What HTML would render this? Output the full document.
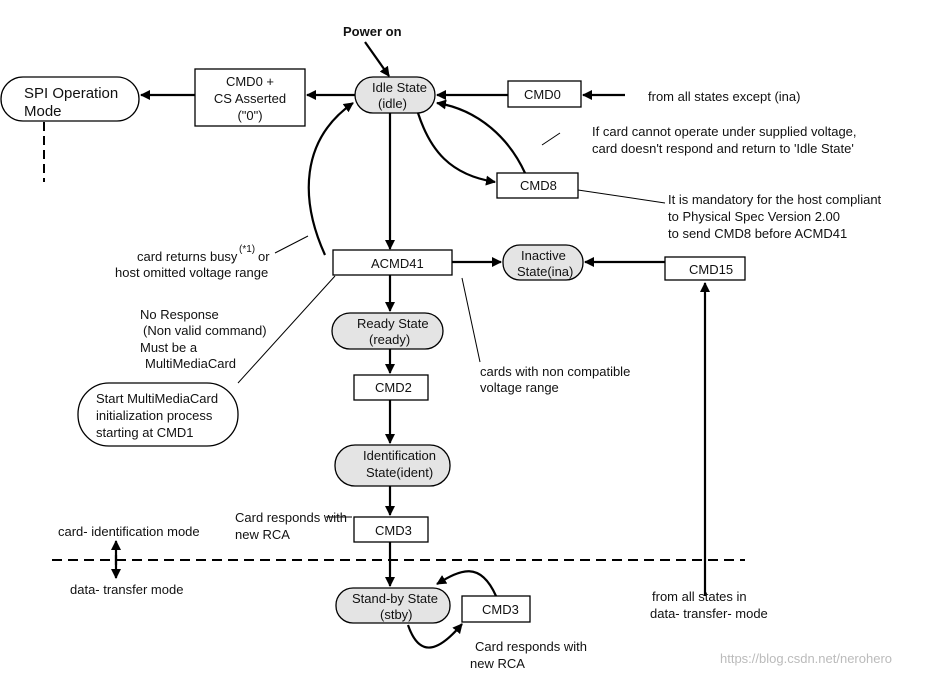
<!DOCTYPE html>
<html><head><meta charset="utf-8"><style>
html,body{margin:0;padding:0;background:#fff;}
svg{display:block;font-family:"Liberation Sans",Arial,sans-serif;font-size:13px;fill:#111;}
</style></head><body>
<svg width="936" height="677" viewBox="0 0 936 677" xmlns="http://www.w3.org/2000/svg">
<defs>
<marker id="a" markerWidth="10" markerHeight="10" refX="9" refY="5" orient="auto" markerUnits="userSpaceOnUse">
<path d="M0,0 L10,5 L0,10 Z" fill="#000"/></marker>
</defs>
<g stroke="#000" stroke-width="1.3" fill="#fff">
<!-- pills -->
<rect x="1" y="77" width="138" height="44" rx="22" />
<rect x="355" y="77" width="80" height="36" rx="18" fill="#e4e4e4"/>
<rect x="503" y="245" width="80" height="35" rx="17" fill="#e4e4e4"/>
<rect x="332" y="313" width="111" height="36" rx="18" fill="#e4e4e4"/>
<rect x="78" y="383" width="160" height="63" rx="31" />
<rect x="335" y="445" width="115" height="41" rx="20" fill="#e4e4e4"/>
<rect x="336" y="588" width="114" height="35" rx="17" fill="#e4e4e4"/>
<!-- boxes -->
<rect x="195" y="69" width="110" height="57"/>
<rect x="508" y="81" width="73" height="26"/>
<rect x="497" y="173" width="81" height="25"/>
<rect x="333" y="250" width="119" height="25"/>
<rect x="665" y="257" width="80" height="23"/>
<rect x="354" y="375" width="74" height="25"/>
<rect x="354" y="517" width="74" height="25"/>
<rect x="462" y="596" width="68" height="26"/>
</g>
<g stroke="#000" stroke-width="2.2" fill="none" marker-end="url(#a)">
<line x1="365" y1="42" x2="389" y2="76"/>
<line x1="355" y1="95" x2="307" y2="95"/>
<line x1="195" y1="95" x2="141" y2="95"/>
<line x1="625" y1="95" x2="583" y2="95"/>
<line x1="508" y1="95" x2="437" y2="95"/>
<path d="M418,113 C430,150 450,175 495,182"/>
<path d="M525,173 C510,140 480,110 437,103"/>
<line x1="390" y1="113" x2="390" y2="249"/>
<path d="M325,255 C300,200 300,140 353,103"/>
<line x1="452" y1="262" x2="501" y2="262"/>
<line x1="665" y1="262" x2="585" y2="262"/>
<line x1="705" y1="596" x2="705" y2="283"/>
<line x1="390" y1="275" x2="390" y2="311"/>
<line x1="390" y1="349" x2="390" y2="373"/>
<line x1="390" y1="400" x2="390" y2="443"/>
<line x1="390" y1="486" x2="390" y2="515"/>
<line x1="390" y1="542" x2="390" y2="586"/>
<path d="M496,596 C480,560 460,570 437,584"/>
<path d="M408,625 C420,660 440,650 462,624"/>
<line x1="116" y1="555" x2="116" y2="578"/>
<line x1="116" y1="565" x2="116" y2="541"/>
</g>
<g stroke="#000" stroke-width="1" fill="none">
<line x1="542" y1="145" x2="560" y2="133"/>
<line x1="578" y1="190" x2="665" y2="203"/>
<line x1="275" y1="253" x2="308" y2="236"/>
<line x1="462" y1="278" x2="480" y2="362"/>
<line x1="335" y1="276" x2="238" y2="383"/>
<line x1="326" y1="517" x2="352" y2="517"/>
</g>
<line x1="44" y1="122" x2="44" y2="182" stroke="#000" stroke-width="2" stroke-dasharray="9,5"/>
<line x1="52" y1="560" x2="745" y2="560" stroke="#000" stroke-width="2" stroke-dasharray="10,6"/>
<text x="343" y="36" font-weight="bold">Power on</text>
<text x="24" y="98" font-size="15">SPI Operation</text>
<text x="24" y="116" font-size="15">Mode</text>
<text x="250" y="86" text-anchor="middle">CMD0 +</text>
<text x="250" y="103" text-anchor="middle">CS Asserted</text>
<text x="250" y="120" text-anchor="middle">("0")</text>
<text x="372" y="92">Idle State</text>
<text x="378" y="108">(idle)</text>
<text x="524" y="99">CMD0</text>
<text x="648" y="101">from all states except (ina)</text>
<text x="592" y="136">If card cannot operate under supplied voltage,</text>
<text x="592" y="153">card doesn't respond and return to 'Idle State'</text>
<text x="520" y="190">CMD8</text>
<text x="668" y="204">It is mandatory for the host compliant</text>
<text x="668" y="221">to Physical Spec Version 2.00</text>
<text x="668" y="238">to send CMD8 before ACMD41</text>
<text x="137" y="261">card returns busy</text>
<text x="239" y="252" font-size="10">(*1)</text>
<text x="258" y="261">or</text>
<text x="115" y="277">host omitted voltage range</text>
<text x="371" y="268">ACMD41</text>
<text x="521" y="260">Inactive</text>
<text x="517" y="276">State(ina)</text>
<text x="689" y="274">CMD15</text>
<text x="140" y="319">No Response</text>
<text x="143" y="335">(Non valid command)</text>
<text x="140" y="352">Must be a</text>
<text x="145" y="368">MultiMediaCard</text>
<text x="357" y="328">Ready State</text>
<text x="369" y="344">(ready)</text>
<text x="480" y="376">cards with non compatible</text>
<text x="480" y="392">voltage range</text>
<text x="375" y="392">CMD2</text>
<text x="96" y="403">Start MultiMediaCard</text>
<text x="96" y="420">initialization process</text>
<text x="96" y="437">starting at CMD1</text>
<text x="363" y="460">Identification</text>
<text x="366" y="477">State(ident)</text>
<text x="235" y="522">Card responds with</text>
<text x="235" y="539">new RCA</text>
<text x="375" y="535">CMD3</text>
<text x="58" y="536">card-  identification mode</text>
<text x="70" y="594">data-  transfer mode</text>
<text x="352" y="603">Stand-by State</text>
<text x="380" y="619">(stby)</text>
<text x="482" y="614">CMD3</text>
<text x="652" y="601">from all states in</text>
<text x="650" y="618">data- transfer- mode</text>
<text x="475" y="651">Card responds with</text>
<text x="470" y="668">new RCA</text>
<text x="720" y="663" fill="#bbb" font-size="13">https://blog.csdn.net/nerohero</text>
</svg>
</body></html>
